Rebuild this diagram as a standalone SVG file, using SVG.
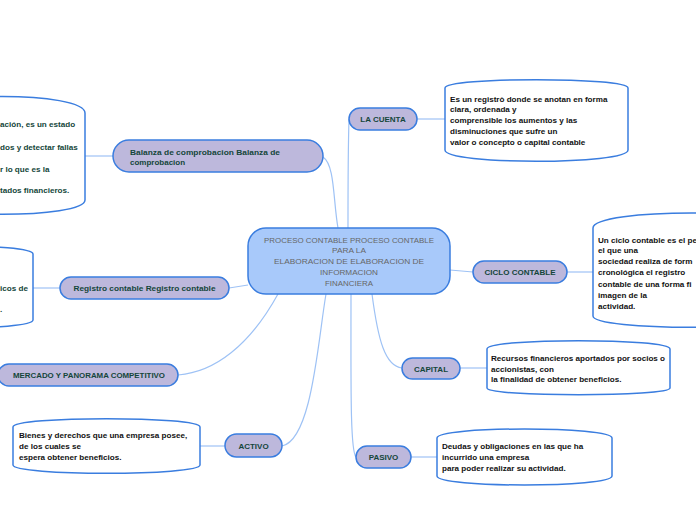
<svg xmlns="http://www.w3.org/2000/svg" width="696" height="520" viewBox="0 0 696 520">
<style>
.conn{fill:none;stroke:#9ec2f5;stroke-width:1.2}
.br{fill:#bdb8dc;stroke:#3a7ddf;stroke-width:1.5}
.brt{font-family:"Liberation Sans",Arial,sans-serif;font-size:8px;font-weight:bold;fill:#14463a}
.co{fill:#ffffff;stroke:#3a7ddf;stroke-width:1.5}
.cot{font-family:"Liberation Sans",Arial,sans-serif;font-size:8.1px;font-weight:bold;fill:#111111}
.cog{font-family:"Liberation Sans",Arial,sans-serif;font-size:8.1px;font-weight:bold;fill:#14463a}
.ct{font-family:"Liberation Sans",Arial,sans-serif;font-size:6.8px;fill:#666666;text-anchor:middle}
</style>
<rect width="696" height="520" fill="#ffffff"/>
<g id="connectors">
<path class="conn" d="M417,119 L445,119"/>
<path class="conn" d="M349,119 C348,150 348,200 348,228"/>
<path class="conn" d="M323,157 C335,165 333,200 338,228"/>
<path class="conn" d="M113,156 L85,156"/>
<path class="conn" d="M248,285 L229,288"/>
<path class="conn" d="M60,288 L33,288"/>
<path class="conn" d="M278,294 C250,345 215,372 178,375"/>
<path class="conn" d="M326,294 C318,340 312,440 282,446"/>
<path class="conn" d="M225,446 L200,446"/>
<path class="conn" d="M351,294 C351,380 350,450 356,457"/>
<path class="conn" d="M411,457 L437,457"/>
<path class="conn" d="M372,294 C378,340 385,366 402,368"/>
<path class="conn" d="M460,368 L487,368"/>
<path class="conn" d="M450,270 L473,272"/>
<path class="conn" d="M567,272 L593,272"/>
</g>
<g id="center">
<rect x="248" y="228" width="202" height="66" rx="18" fill="#a8c9fa" stroke="#3a7ddf" stroke-width="1.5"/>
<text class="ct" x="349" y="243" textLength="170" lengthAdjust="spacingAndGlyphs">PROCESO CONTABLE PROCESO CONTABLE</text>
<text class="ct" x="349" y="253" textLength="34" lengthAdjust="spacingAndGlyphs">PARA LA</text>
<text class="ct" x="349" y="264" textLength="150" lengthAdjust="spacingAndGlyphs">ELABORACION DE ELABORACION DE</text>
<text class="ct" x="349" y="275" textLength="58" lengthAdjust="spacingAndGlyphs">INFORMACION</text>
<text class="ct" x="349" y="286" textLength="48" lengthAdjust="spacingAndGlyphs">FINANCIERA</text>
</g>
<g id="la-cuenta">
<rect class="br" x="349" y="108" width="68" height="22" rx="11"/>
<text class="brt" x="383" y="122" text-anchor="middle">LA CUENTA</text>
</g>
<g id="la-cuenta-note">
<path class="co" d="M445,88 C445,77 628,77 628,88 L628,150 C628,165 445,165 445,150 Z"/>
<text class="cot" x="450" y="102">Es un registrò donde se anotan en forma</text>
<text class="cot" x="450" y="112">clara, ordenada y</text>
<text class="cot" x="450" y="123">comprensible los aumentos y las</text>
<text class="cot" x="450" y="134">disminuciones que sufre un</text>
<text class="cot" x="450" y="145">valor o concepto o capital contable</text>
</g>
<g id="balanza">
<rect class="br" x="113" y="140" width="210" height="32" rx="16"/>
<text class="brt" x="130" y="155" textLength="150" lengthAdjust="spacingAndGlyphs">Balanza de comprobacion Balanza de</text>
<text class="brt" x="130" y="165">comprobacion</text>
</g>
<g id="balanza-note">
<path class="co" d="M-80,113 C-80,91 85,91 85,113 L85,200 C85,219 -80,219 -80,200 Z"/>
<text class="cog" x="0" y="127">ación, es un estado</text>
<text class="cog" x="0" y="150">dos y detectar fallas</text>
<text class="cog" x="0" y="172">r lo que es la</text>
<text class="cog" x="0" y="193">tados financieros.</text>
</g>
<g id="registro">
<rect class="br" x="60" y="277" width="169" height="22" rx="11"/>
<text class="brt" x="144.5" y="291" text-anchor="middle" textLength="142" lengthAdjust="spacingAndGlyphs">Registro contable Registro contable</text>
</g>
<g id="registro-note">
<path class="co" d="M-130,254 C-130,243 33,243 33,254 L33,320 C33,331 -130,331 -130,320 Z"/>
<text class="cog" x="0" y="291">icos de</text>
<text class="cog" x="0" y="312">.</text>
</g>
<g id="mercado">
<rect class="br" x="-2" y="364" width="180" height="22" rx="11"/>
<text class="brt" x="89" y="378" text-anchor="middle" textLength="152" lengthAdjust="spacingAndGlyphs">MERCADO Y PANORAMA COMPETITIVO</text>
</g>
<g id="activo">
<rect class="br" x="225" y="434" width="57" height="23" rx="11.5"/>
<text class="brt" x="253.5" y="449" text-anchor="middle">ACTIVO</text>
</g>
<g id="activo-note">
<path class="co" d="M13,427 C13,416 200,416 200,427 L200,465 C200,476 13,476 13,465 Z"/>
<text class="cot" x="19" y="438">Bienes y derechos que una empresa posee,</text>
<text class="cot" x="19" y="449">de los cuales se</text>
<text class="cot" x="19" y="460">espera obtener beneficios.</text>
</g>
<g id="ciclo">
<rect class="br" x="473" y="261" width="94" height="22" rx="11"/>
<text class="brt" x="520" y="275" text-anchor="middle">CICLO CONTABLE</text>
</g>
<g id="ciclo-note">
<path class="co" d="M593,228 C593,208 790,208 790,228 L790,316 C790,331 593,331 593,316 Z"/>
<text class="cot" x="598" y="243">Un ciclo contable es el pe</text>
<text class="cot" x="598" y="253">el que una</text>
<text class="cot" x="598" y="264">sociedad realiza de form</text>
<text class="cot" x="598" y="275">cronológica el registro</text>
<text class="cot" x="598" y="287">contable de una forma fi</text>
<text class="cot" x="598" y="298">imagen de la</text>
<text class="cot" x="598" y="309">actividad.</text>
</g>
<g id="capital">
<rect class="br" x="402" y="358" width="58" height="21" rx="10.5"/>
<text class="brt" x="431" y="371.5" text-anchor="middle">CAPITAL</text>
</g>
<g id="capital-note">
<path class="co" d="M487,349 C487,338 670,338 670,349 L670,388 C670,397 487,397 487,388 Z"/>
<text class="cot" x="491" y="361">Recursos financieros aportados por socios o</text>
<text class="cot" x="491" y="372">accionistas, con</text>
<text class="cot" x="491" y="382">la finalidad de obtener beneficios.</text>
</g>
<g id="pasivo">
<rect class="br" x="356" y="446" width="55" height="22" rx="11"/>
<text class="brt" x="383.5" y="460" text-anchor="middle">PASIVO</text>
</g>
<g id="pasivo-note">
<path class="co" d="M437,438 C437,426 612,426 612,438 L612,476 C612,488 437,488 437,476 Z"/>
<text class="cot" x="442" y="449">Deudas y obligaciones en las que ha</text>
<text class="cot" x="442" y="460">incurrido una empresa</text>
<text class="cot" x="442" y="471">para poder realizar su actividad.</text>
</g>
</svg>
